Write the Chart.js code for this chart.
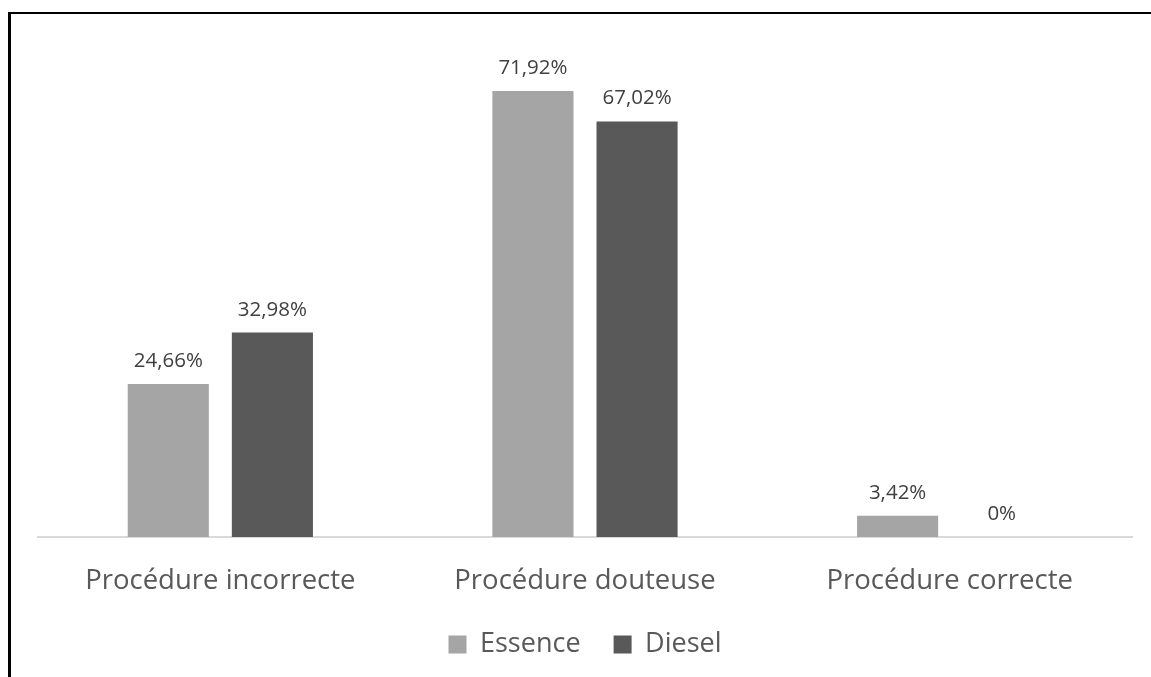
<!DOCTYPE html>
<html>
<head>
<meta charset="utf-8">
<script src="https://cdn.jsdelivr.net/npm/chart.js@4/dist/chart.umd.min.js"></script>
<style>
  html, body { margin: 0; padding: 0; background: #fff; }
  #wrap { position: relative; width: 1151px; height: 677px; overflow: hidden; }
  #frame { position: absolute; left: 8px; top: 12px; width: 1200px; height: 700px;
           border-top: 2px solid #000; border-left: 3px solid #000; }
  #chart { position: absolute; left: 0; top: 0; }
</style>
</head>
<body>
<div id="wrap">
  <div id="frame"></div>
  <canvas id="chart" width="1151" height="677"></canvas>
</div>
<script>
// categories + series
var categories = ['Procédure incorrecte', 'Procédure douteuse', 'Procédure correcte'];
var essence = [24.66, 71.92, 3.42];
var diesel = [32.98, 67.02, 0];
var seriesNames = ['Essence', 'Diesel'];

var fontFam = "'Open Sans', 'Noto Sans', sans-serif";

// labels above bars, like excel data labels
var barLabels = {
  id: 'barLabels',
  afterDatasetsDraw: function(chart) {
    var ctx = chart.ctx;
    ctx.save();
    ctx.font = '20.5px ' + fontFam;
    ctx.fillStyle = '#404040';
    ctx.textAlign = 'center';
    ctx.textBaseline = 'alphabetic';
    chart.data.datasets.forEach(function(ds, i) {
      var meta = chart.getDatasetMeta(i);
      meta.data.forEach(function(bar, j) {
        var txt = String(ds.data[j]).replace('.', ',') + '%';
        ctx.fillText(txt, bar.x, bar.y - 17);
      });
    });
    ctx.restore();
  }
};

var c = document.getElementById('chart').getContext('2d');
var chart = new Chart(c, {
  type: 'bar',
  data: {
    labels: categories,
    datasets: [{
      label: seriesNames[0] + '    ', // trailing spaces = gap between legend items
      backgroundColor: '#a5a5a5',
      data: essence,
      categoryPercentage: 0.571,
      barPercentage: 0.779
    }, {
      label: seriesNames[1],
      backgroundColor: '#595959',
      data: diesel,
      categoryPercentage: 0.571,
      barPercentage: 0.779
    }]
  },
  options: {
    responsive: false,
    animation: false,
    layout: { padding: { left: 38, right: 19, top: 41, bottom: 9 } },
    plugins: {
      tooltip: { enabled: false },
      legend: {
        position: 'bottom',
        labels: {
          boxWidth: 18, boxHeight: 18, padding: 5,
          color: '#595959',
          font: { family: fontFam, size: 27 }
        }
      }
    },
    scales: {
      x: {
        grid: { display: false, drawTicks: false },
        border: { color: '#d9d9d9', width: 2 },
        ticks: { color: '#595959', padding: 28, font: { family: fontFam, size: 27.5 } }
      },
      y: {
        display: false,
        min: 0, max: 80
      }
    }
  },
  plugins: [barLabels]
});
</script>
</body>
</html>
